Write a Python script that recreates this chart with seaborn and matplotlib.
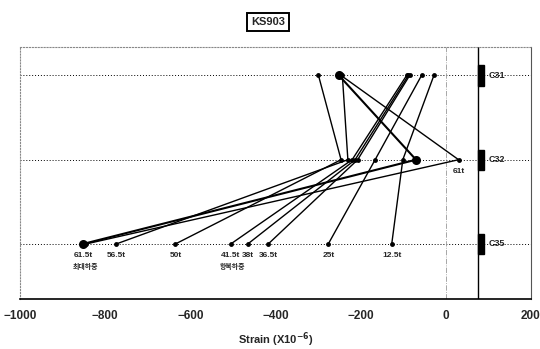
import pandas as pd
import seaborn as sns
import matplotlib.pyplot as plt
from matplotlib.patches import Rectangle

# gauges (top to bottom) and strain readings per load step
gauges = ['C31', 'C32', 'C35']
gauge_pos = [1, 2, 3]
loads = ['12.5t', '25t', '36.5t', '38t', '41.5t', '50t', '56.5t', '61.5t', '61t']
c31 = [-28, -57, -85, -88, -92, -299, -243, -251, -246]
c32 = [-101, -166, -207, -213, -220, -246, -230, -70, 30]
c35 = [-127, -276, -417, -465, -505, -635, -774, -852, -845]
max_load = '61.5t'

sns.set_style('white')
plt.rcParams['font.family'] = ['Liberation Sans', 'Noto Sans CJK KR']
plt.rcParams['font.weight'] = 'bold'

rows = []
for i, ld in enumerate(loads):
    for g, p, vals in zip(gauges, gauge_pos, [c31, c32, c35]):
        rows.append({'load': ld, 'gauge': g, 'pos': p, 'strain': vals[i]})
df = pd.DataFrame(rows)

fig = plt.figure(figsize=(5.4, 3.49), dpi=100)
ax = fig.add_axes([0.037, 0.1433, 0.9463, 0.7221])

# reference lines
for p in gauge_pos:
    ax.axhline(p, color='black', linestyle=(0, (1, 2)), lw=0.7, zorder=1)
ax.axvline(0, color='#999999', linestyle='-.', lw=0.6, zorder=1)
ax.axvline(75, color='black', lw=1.0, zorder=1)
for p in gauge_pos:
    ax.add_patch(Rectangle((75, p - 0.12), 14, 0.24, color='black', zorder=3))

# strain profiles
sns.lineplot(data=df[df['load'] != max_load], x='strain', y='pos', units='load',
             estimator=None, sort=False, color='black', lw=1.0,
             marker='o', markersize=3.5, markeredgewidth=0, ax=ax, zorder=4)
sns.lineplot(data=df[df['load'] == max_load], x='strain', y='pos', units='load',
             estimator=None, sort=False, color='black', lw=1.5,
             marker='o', markersize=6.5, markeredgewidth=0, ax=ax, zorder=5)

# load labels under C35 points
for ld, v in zip(loads, c35):
    if ld == '61t':
        continue
    ax.text(v, 3.1, ld, ha='center', va='top', fontsize=6, fontweight='bold')
ax.text(c32[loads.index('61t')], 2.1, '61t', ha='center', va='top',
        fontsize=6, fontweight='bold')
ax.text(c35[loads.index('61.5t')] + 5, 3.22, '최대하중', ha='center', va='top',
        fontsize=5, fontweight='bold', family=['Noto Sans CJK KR'])
ax.text(c35[loads.index('41.5t')] + 5, 3.22, '항복하중', ha='center', va='top',
        fontsize=5, fontweight='bold', family=['Noto Sans CJK KR'])

# gauge names
for g, p in zip(gauges, gauge_pos):
    ax.text(100, p, g, ha='left', va='center', fontsize=6.5, fontweight='bold')

ax.set_xlim(-1000, 200)
ax.set_ylim(3.653, 0.662)
ax.set_xticks([-1000, -800, -600, -400, -200, 0, 200])
ax.set_yticks([])
ax.tick_params(axis='x', direction='in', length=3, pad=8, labelsize=8.5)
for lab in ax.get_xticklabels():
    lab.set_fontweight('bold')
ax.set_xlabel('Strain (X10$^{-6}$)', fontsize=8, fontweight='bold', labelpad=6)
ax.set_ylabel('')

for s in ['top', 'left']:
    ax.spines[s].set_color('#888888')
    ax.spines[s].set_linestyle(':')
    ax.spines[s].set_linewidth(0.8)
ax.spines['right'].set_color('#555555')
ax.spines['right'].set_linewidth(0.8)
ax.spines['bottom'].set_color('black')
ax.spines['bottom'].set_linewidth(1.2)

fig.text(268 / 540, 1 - 22 / 349, 'KS903', ha='center', va='center',
         fontsize=8, fontweight='bold',
         bbox=dict(boxstyle='square,pad=0.35', fc='white', ec='black', lw=1.4))

fig.savefig('out.png', dpi=100)
